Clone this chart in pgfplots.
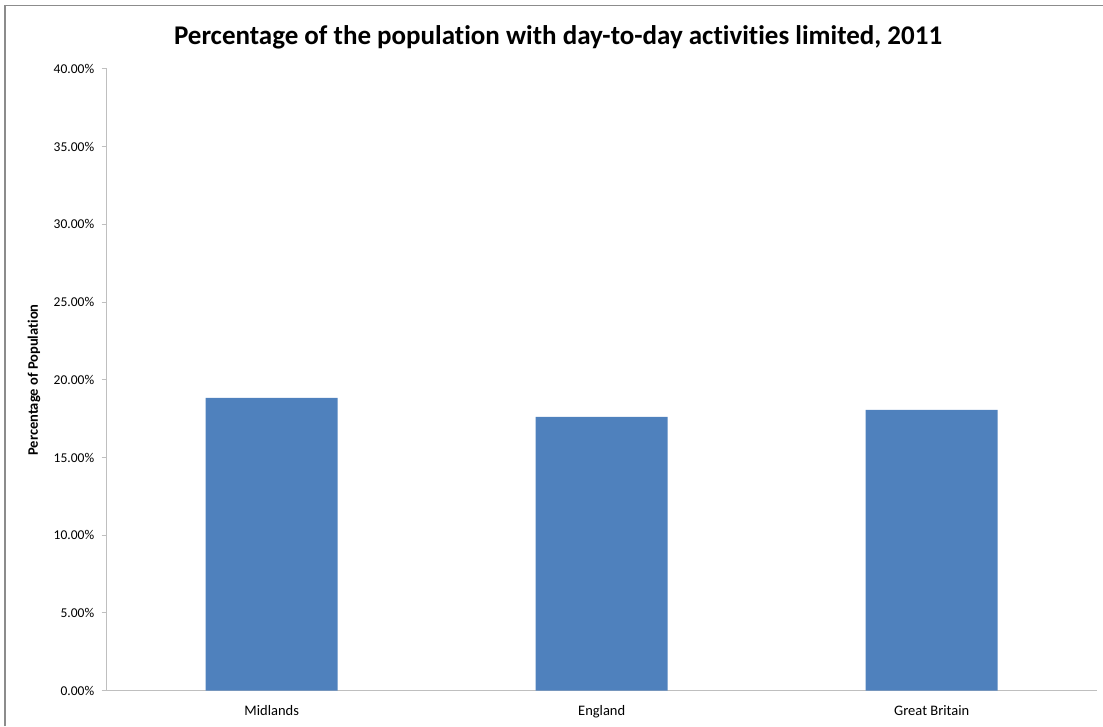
\documentclass[border=0pt]{standalone}
\usepackage{pgfplots}
\pgfplotsset{compat=1.18}
\usepackage{fontspec}
\setmainfont{Carlito}[Ligatures=NoCommon]
\definecolor{barblue}{HTML}{4F81BD}
\definecolor{axisgray}{HTML}{BFBFBF}
\definecolor{framegray}{HTML}{8C8C8C}
\begin{document}
\begin{tikzpicture}
\path[use as bounding box] (0,0) rectangle (1103pt,726pt);
% outer chart frame
\draw[framegray, line width=1.5pt] (5pt,0pt) -- (5pt,720.5pt) -- (1103pt,720.5pt);
\begin{axis}[
  at={(106.7pt,35.3pt)}, anchor=south west,
  scale only axis, width=990pt, height=621.7pt,
  xmin=-0.5, xmax=2.5, ymin=0, ymax=40,
  xtick=data, xticklabels={Midlands,England,Great Britain},
  ytick distance=5,
  axis x line*=bottom, axis y line*=left,
  axis line style={axisgray, line width=1pt, -},
  x axis line style={-}, y axis line style={-},
  major tick length=5pt,
  xtick style={draw=none},
  ytick style={axisgray, line width=1pt},
  tick align=outside,
  ticklabel style={text=black},
  yticklabel style={font=\fontsize{13.5}{15}\selectfont, xshift=-4pt},
  xticklabel style={font=\fontsize{14.5}{16}\selectfont, yshift=-6pt},
  /pgf/number format/assume math mode=true,
  yticklabel={\pgfmathprintnumber[fixed,fixed zerofill,precision=2]{\tick}\%},
  ybar, bar width=132pt,
  clip=false,
]
\addplot[fill=barblue, draw=none] coordinates {(0,18.84) (1,17.62) (2,18.07)};
\end{axis}
\node[font=\fontsize{27}{30}\selectfont\bfseries] at (558pt,689pt) {Percentage of the population with day-to-day activities limited, 2011};
\node[font=\fontsize{14.5}{16}\selectfont\bfseries, rotate=90] at (34pt,346pt) {Percentage of Population};
\end{tikzpicture}
\end{document}
